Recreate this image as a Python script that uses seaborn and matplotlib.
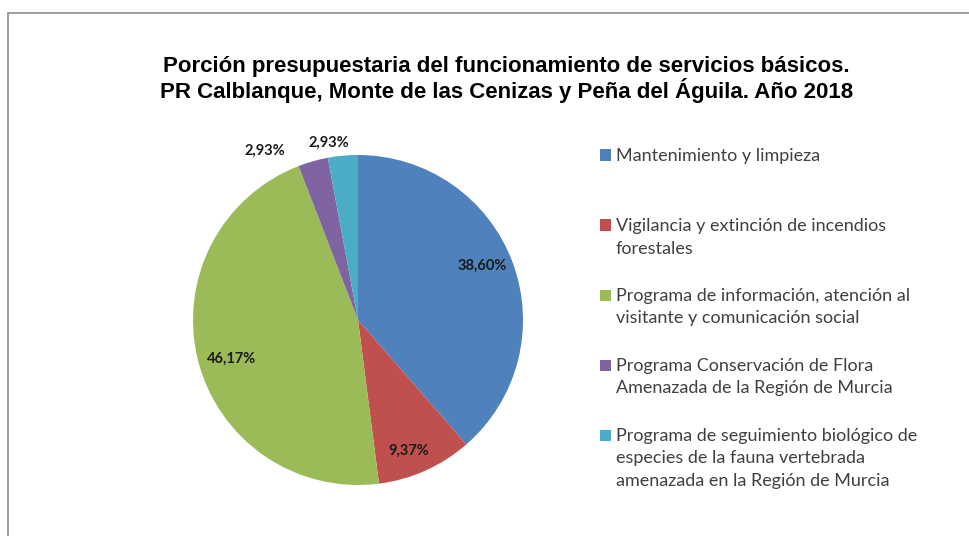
import numpy as np
import seaborn as sns
import matplotlib.pyplot as plt
from matplotlib.patches import Rectangle

# datos
categorias = [
    "Mantenimiento y limpieza",
    "Vigilancia y extinción de incendios\nforestales",
    "Programa de información, atención al\nvisitante y comunicación social",
    "Programa Conservación de Flora\nAmenazada de la Región de Murcia",
    "Programa de seguimiento biológico de\nespecies de la fauna vertebrada\namenazada en la Región de Murcia",
]
porcentajes = [38.60, 9.37, 46.17, 2.93, 2.93]
etiquetas = ["38,60%", "9,37%", "46,17%", "2,93%", "2,93%"]

sns.set_theme(style="white")
colores = sns.color_palette(["#4F81BD", "#C0504D", "#9BBB59", "#8064A2", "#4BACC6"])

fig = plt.figure(figsize=(9.69, 5.36), dpi=100)

# marco del grafico
fig.patches.append(Rectangle((8 / 969, -0.1), 1.2, 1.1 - 13 / 536, transform=fig.transFigure,
                             fill=False, edgecolor="#8c8c8c", linewidth=1.2))

ax = fig.add_axes([0.1566, 0.0182, 0.4257, 0.7696])
wedges, _ = ax.pie(porcentajes, colors=colores, startangle=90, counterclock=False,
                   wedgeprops=dict(linewidth=0))
ax.set_xlim(-1.25, 1.25)
ax.set_ylim(-1.25, 1.25)
ax.set_aspect("equal")

# etiquetas de porcentaje
radios = [0.82, 0.85, 0.80, 1.17, 1.09]
desplaz = [3, -3, 3, 13, 4]
for w, txt, r, d in zip(wedges, etiquetas, radios, desplaz):
    ang = np.deg2rad((w.theta1 + w.theta2) / 2 + d)
    ax.text(r * np.cos(ang), r * np.sin(ang), txt, ha="center", va="center",
            fontsize=10.5, fontweight="bold", family="Lato", color="#1a1a1a")

# titulo
fig.text(0.523, 1 - 79.5 / 536, "Porción presupuestaria del funcionamiento de servicios básicos.\n"
         "PR Calblanque, Monte de las Cenizas y Peña del Águila. Año 2018",
         ha="center", va="center", fontsize=16, fontweight="bold",
         family="Liberation Sans", linespacing=1.07, color="black")

# leyenda
y0 = 155
paso = 70
for i, (cat, c) in enumerate(zip(categorias, colores)):
    y = y0 + i * paso
    fig.patches.append(Rectangle((600 / 969, 1 - (y + 5.5) / 536), 11 / 969, 11 / 536,
                                 transform=fig.transFigure, facecolor=c, edgecolor="none"))
    fig.text(616 / 969, 1 - (y - 7) / 536, cat, ha="left", va="top", fontsize=13,
             family="Lato", color="#404040", linespacing=1.5)

fig.savefig("out.png", dpi=100)
